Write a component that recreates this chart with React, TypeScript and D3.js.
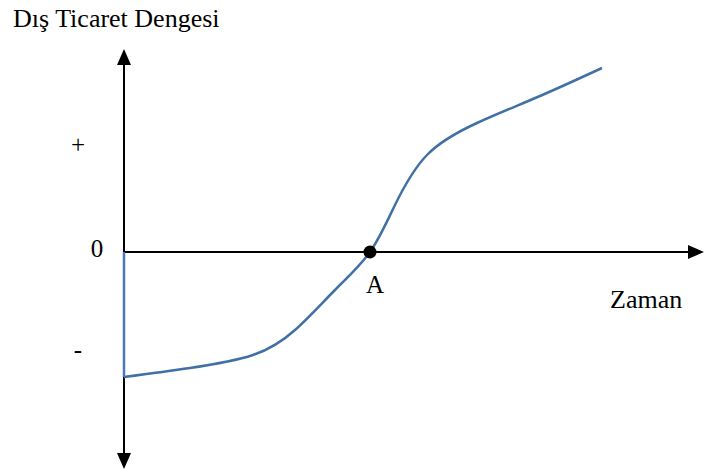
import React from "react";
import * as d3 from "d3";

const W = 704;
const H = 473;

// Time (x) and trade balance (y) values of the J-curve
const timeValues = [0, 1.138, 2.224, 2.948, 3.638, 4.241, 4.672, 5.224, 6.086, 7.172, 8.241];
const balanceValues = [-1.25, -1.16, -1.03, -0.78, -0.38, 0, 0.47, 0.97, 1.29, 1.56, 1.84];

// Axis extents
const xAxisEnd = 10;
const yAxisTop = 2.03;
const yAxisBottom = -2.17;

// Point A
const pointA = { t: 4.241, v: 0 };

const yLabels = [
  { text: "+", v: 1.07 },
  { text: "0", v: 0 },
  { text: "-", v: -0.98 },
];

export default function App() {
  const x = d3.scaleLinear().domain([0, 10]).range([124, 704]);
  const y = d3.scaleLinear().domain([-1, 1]).range([352, 152]);

  const pts: [number, number][] = timeValues.map((t, i) => [t, balanceValues[i]]);
  const line = d3
    .line<[number, number]>()
    .x((d) => x(d[0]))
    .y((d) => y(d[1]))
    .curve(d3.curveNatural);

  const x0 = x(0);
  const y0 = y(0);
  const yTop = y(yAxisTop);
  const yBot = y(yAxisBottom);
  const xEnd = x(xAxisEnd);
  const ah = 16; // arrow head length
  const aw = 7; // arrow half width
  const font = "'Liberation Serif', 'Times New Roman', serif";

  return (
    <svg
      width={W}
      height={H}
      style={{ position: "absolute", left: 0, top: 0, background: "#fff" }}
    >
      <text x={13} y={27} fontFamily={font} fontSize={26} fill="#000">
        Dış Ticaret Dengesi
      </text>

      {/* vertical axis */}
      <line x1={x0} x2={x0} y1={yTop + ah - 2} y2={yBot - ah + 2} stroke="#000" strokeWidth={2} />
      <path d={`M${x0},${yTop} L${x0 - aw},${yTop + ah} L${x0 + aw},${yTop + ah} Z`} fill="#000" />
      <path d={`M${x0},${yBot} L${x0 - aw},${yBot - ah} L${x0 + aw},${yBot - ah} Z`} fill="#000" />

      {/* horizontal axis */}
      <line x1={x0} x2={xEnd - ah + 2} y1={y0} y2={y0} stroke="#000" strokeWidth={2} />
      <path d={`M${xEnd},${y0} L${xEnd - ah},${y0 - aw} L${xEnd - ah},${y0 + aw} Z`} fill="#000" />

      {/* initial drop */}
      <line
        x1={x(0)}
        x2={x(0)}
        y1={y(0)}
        y2={y(balanceValues[0])}
        stroke="#4a78bd"
        strokeWidth={2.5}
      />
      {/* J-curve */}
      <path d={line(pts) || ""} fill="none" stroke="#4170a4" strokeWidth={2.5} />

      <circle cx={x(pointA.t)} cy={y(pointA.v)} r={6.5} fill="#000" />

      {yLabels.map((l) => (
        <text
          key={l.text}
          x={l.text === "0" ? 97 : 78}
          y={l.text === "0" ? y(l.v) + 5 : y(l.v) + 8}
          fontFamily={font}
          fontSize={25}
          textAnchor="middle"
          fill="#000"
        >
          {l.text}
        </text>
      ))}

      <text x={375} y={293} fontFamily={font} fontSize={25} textAnchor="middle" fill="#000">
        A
      </text>
      <text x={610} y={308} fontFamily={font} fontSize={26} fill="#000">
        Zaman
      </text>
    </svg>
  );
}
